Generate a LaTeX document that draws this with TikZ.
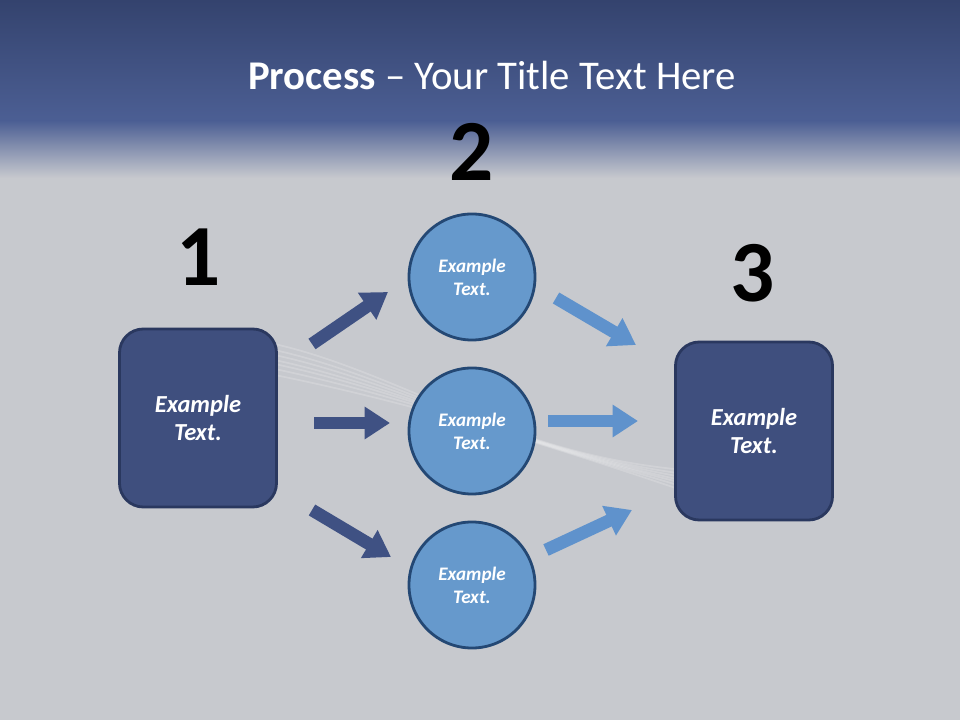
\documentclass[tikz,border=0pt]{standalone}
\usepackage{fontspec}
\setmainfont{Carlito}
\usetikzlibrary{arrows.meta}
\definecolor{bandtop}{RGB}{52,67,110}
\definecolor{bandlow}{RGB}{76,95,148}
\definecolor{slidegray}{RGB}{199,201,206}
\definecolor{boxblue}{RGB}{63,79,126}
\definecolor{boxedge}{RGB}{42,56,95}
\definecolor{circblue}{RGB}{102,153,204}
\definecolor{circedge}{RGB}{36,72,116}
\definecolor{arrdark}{RGB}{63,81,131}
\definecolor{arrlight}{RGB}{95,146,204}

\begin{document}
\begin{tikzpicture}[x=0.025cm,y=-0.025cm,line cap=butt,
  stepbox/.style={draw=boxedge,line width=2pt,fill=boxblue,rounded corners=17pt,
    minimum width=3.925cm,minimum height=4.45cm,text=white,align=center,
    font=\bfseries\itshape\fontsize{17.4}{20.5}\selectfont},
  stepcirc/.style={circle,draw=circedge,line width=2pt,fill=circblue,minimum size=3.15cm,
    text=white,align=center,font=\bfseries\itshape\fontsize{13.6}{16.3}\selectfont},
  bignum/.style={font=\bfseries\fontsize{62}{62}\selectfont},
  blockarrow/.style={line width=9pt,-{Triangle[length=18pt,width=22pt]}}]
\useasboundingbox (0,0) rectangle (960,720);
% background
\fill[slidegray] (0,0) rectangle (960,720);
\shade[top color=bandtop,bottom color=bandlow] (0,0) rectangle (960,122);
\shade[top color=bandlow,bottom color=slidegray] (0,121) rectangle (960,178);
% light streak
\foreach \d in {-16,-10,-5,0,4,9,15}
  \draw[white,opacity=0.18,line width=1.2pt] (265,358+\d) .. controls (400,385+\d) and (520,450-\d) .. (720,488+\d);
\node[text=white,font=\fontsize{29}{34}\selectfont] (title) at (492,75) {\textbf{Process} – Your Title Text Here};
% steps
\node[stepbox] (box1) at (198,418) {Example\\Text.};
\node[stepbox] (box3) at (754,431) {Example\\Text.};
\node[stepcirc] (c1) at (472,277) {Example\\Text.};
\node[stepcirc] (c2) at (472,431) {Example\\Text.};
\node[stepcirc] (c3) at (472,585) {Example\\Text.};
\node[bignum] (n1) at (199,257) {1};
\node[bignum] (n2) at (472,152) {2};
\node[bignum] (n3) at (753,273) {3};
% arrows
\coordinate (a1s) at (312,344); \coordinate (a1e) at (388,292);
\coordinate (a2s) at (314,423); \coordinate (a2e) at (390,423);
\coordinate (a3s) at (312,510); \coordinate (a3e) at (391,557);
\coordinate (b1s) at (556,298); \coordinate (b1e) at (636,345);
\coordinate (b2s) at (548,421); \coordinate (b2e) at (638,421);
\coordinate (b3s) at (546,550); \coordinate (b3e) at (632,510);
\draw[blockarrow,arrdark] (a1s) -- (a1e);
\draw[blockarrow,arrdark] (a2s) -- (a2e);
\draw[blockarrow,arrdark] (a3s) -- (a3e);
\draw[blockarrow,arrlight] (b1s) -- (b1e);
\draw[blockarrow,arrlight] (b2s) -- (b2e);
\draw[blockarrow,arrlight] (b3s) -- (b3e);
\end{tikzpicture}
\end{document}
